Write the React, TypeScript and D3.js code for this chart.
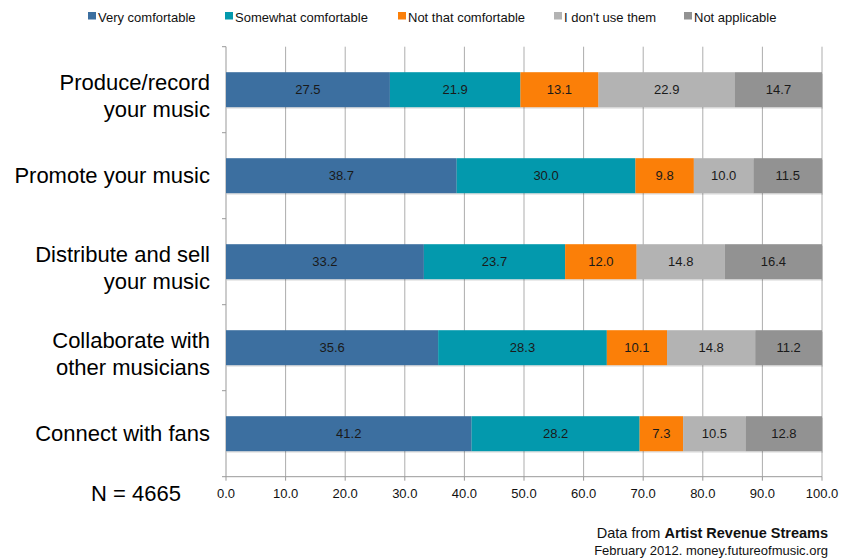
import React from "react";
import * as d3 from "d3";

const categories = [
  "Produce/record\nyour music",
  "Promote your music",
  "Distribute and sell\nyour music",
  "Collaborate with\nother musicians",
  "Connect with fans",
];
const seriesNames = [
  "Very comfortable",
  "Somewhat comfortable",
  "Not that comfortable",
  "I don't use them",
  "Not applicable",
];
const veryComfortable = [27.5, 38.7, 33.2, 35.6, 41.2];
const somewhatComfortable = [21.9, 30.0, 23.7, 28.3, 28.2];
const notThatComfortable = [13.1, 9.8, 12.0, 10.1, 7.3];
const dontUseThem = [22.9, 10.0, 14.8, 14.8, 10.5];
const notApplicable = [14.7, 11.5, 16.4, 11.2, 12.8];
const xTicks = [0, 10, 20, 30, 40, 50, 60, 70, 80, 90, 100];

const colors = ["#3c6fa0", "#0399ad", "#fb7f08", "#b3b3b3", "#929292"];
const legendX = [88, 225, 398, 554, 684];

const W = 841;
const H = 560;
const FONT = "'Liberation Sans', Arial, Helvetica, sans-serif";

export default function App() {
  const left = 226;
  const right = 822;
  const top = 46.7;
  const bottom = 476.7;

  const x = d3.scaleLinear().domain([0, 100]).range([left, right]);
  const y = d3
    .scaleBand<string>()
    .domain(categories)
    .range([top, bottom])
    .paddingInner(0.593)
    .paddingOuter(0.2965);

  const table = categories.map((c, i) => ({
    cat: c,
    s0: veryComfortable[i],
    s1: somewhatComfortable[i],
    s2: notThatComfortable[i],
    s3: dontUseThem[i],
    s4: notApplicable[i],
  }));
  const keys = ["s0", "s1", "s2", "s3", "s4"];
  const stacked = d3.stack<any>().keys(keys)(table);

  const step = y.step();
  const boundaries = d3.range(categories.length + 1).map((i) => top + i * step);

  return (
    <svg
      width={W}
      height={H}
      style={{ position: "absolute", left: 0, top: 0, background: "#fff" }}
      fontFamily={FONT}
    >
      {/* legend */}
      {seriesNames.map((n, i) => (
        <g key={n}>
          <rect x={legendX[i]} y={12} width={8} height={7.5} fill={colors[i]} />
          <text x={legendX[i] + 10} y={22} fontSize={13} fill="#111">
            {n}
          </text>
        </g>
      ))}

      {/* vertical gridlines */}
      {xTicks.slice(1).map((t) => (
        <line key={t} x1={x(t)} x2={x(t)} y1={top} y2={bottom} stroke="#adadad" strokeWidth={1} />
      ))}

      {/* axes */}
      <line x1={left} x2={left} y1={top} y2={bottom} stroke="#999" strokeWidth={1} />
      {boundaries.map((b, i) => (
        <line key={i} x1={left - 4} x2={left} y1={b} y2={b} stroke="#999" strokeWidth={1} />
      ))}
      <line x1={left} x2={right} y1={bottom} y2={bottom} stroke="#999" strokeWidth={1} />
      {xTicks.map((t) => (
        <g key={t}>
          <line x1={x(t)} x2={x(t)} y1={bottom} y2={bottom + 4} stroke="#999" strokeWidth={1} />
          <text x={x(t)} y={497.5} fontSize={13} textAnchor="middle" fill="#111">
            {t.toFixed(1)}
          </text>
        </g>
      ))}

      {/* bar shadows */}
      {categories.map((c) => (
        <rect
          key={c}
          x={x(0) + 1}
          y={(y(c) as number) + 1.5}
          width={x(100) - x(0)}
          height={y.bandwidth()}
          fill="#000"
          opacity={0.12}
        />
      ))}

      {/* bars */}
      {stacked.map((layer, si) => (
        <g key={layer.key} fill={colors[si]}>
          {layer.map((d, i) => (
            <rect
              key={i}
              x={x(d[0])}
              y={y(categories[i]) as number}
              width={x(Math.min(d[1], 100)) - x(d[0])}
              height={y.bandwidth()}
            />
          ))}
        </g>
      ))}

      {/* value labels */}
      {stacked.map((layer) =>
        layer.map((d, i) => (
          <text
            key={layer.key + i}
            x={(x(d[0]) + x(Math.min(d[1], 100))) / 2}
            y={(y(categories[i]) as number) + y.bandwidth() / 2}
            dy="0.35em"
            fontSize={13}
            textAnchor="middle"
            fill="#1a1a1a"
          >
            {(d[1] - d[0]).toFixed(1)}
          </text>
        ))
      )}

      {/* category labels */}
      {categories.map((c) => {
        const lines = c.split("\n");
        const cy = (y(c) as number) + y.bandwidth() / 2;
        return (
          <text key={c} x={210} fontSize={22} textAnchor="end" fill="#000">
            {lines.length === 1 ? (
              <tspan x={210} y={cy} dy="0.35em">
                {lines[0]}
              </tspan>
            ) : (
              lines.map((l, li) => (
                <tspan key={li} x={210} y={cy + (li === 0 ? -7 : 20)} dy="0.35em">
                  {l}
                </tspan>
              ))
            )}
          </text>
        );
      })}

      <text x={181} y={501} fontSize={22} textAnchor="end" fill="#000">
        N = 4665
      </text>

      {/* source */}
      <text x={828} y={538} fontSize={14.5} textAnchor="end" fill="#111">
        Data from <tspan fontWeight="bold">Artist Revenue Streams</tspan>
      </text>
      <text x={828} y={555} fontSize={13} textAnchor="end" fill="#111">
        February 2012. money.futureofmusic.org
      </text>
    </svg>
  );
}
